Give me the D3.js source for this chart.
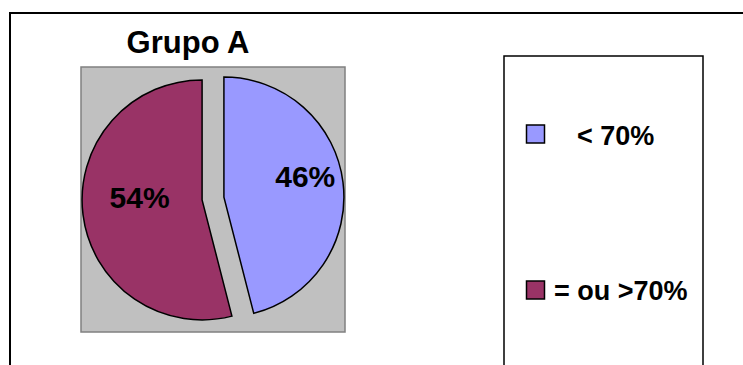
<!DOCTYPE html>
<html>
<head>
<meta charset="utf-8">
<script src="https://cdn.jsdelivr.net/npm/d3@7/dist/d3.min.js"></script>
<style>
  html, body { margin: 0; padding: 0; background: #fff; }
  svg { display: block; font-family: "Liberation Sans", Arial, sans-serif; }
</style>
</head>
<body>
<svg id="chart" width="743" height="365"></svg>
<script>
// Data
const categories = ["< 70%", "= ou >70%"];
const values = [46, 54];
const colors = ["#9999FF", "#993366"];
const title = "Grupo A";

// Layout
const W = 743, H = 365;
const plotArea = { x: 81, y: 67, w: 264, h: 265 };
const center = { x: 213, y: 198.5 };
const radius = 120;
const explode = 11;
const labelRadius = [82, 63];

const svg = d3.select("#chart");

// Outer frame (top and left edges visible)
svg.append("path")
  .attr("d", `M10,${H} L10,13 L${W},13`)
  .attr("fill", "none")
  .attr("stroke", "#000")
  .attr("stroke-width", 2);

// Title
svg.append("text")
  .attr("x", 188).attr("y", 53)
  .attr("text-anchor", "middle")
  .attr("font-weight", "bold")
  .attr("font-size", 31)
  .text(title);

// Plot area
svg.append("rect")
  .attr("x", plotArea.x).attr("y", plotArea.y)
  .attr("width", plotArea.w).attr("height", plotArea.h)
  .attr("fill", "#C0C0C0")
  .attr("stroke", "#808080")
  .attr("stroke-width", 1.5);

const total = d3.sum(values);
const data = categories.map((c, i) => ({ cat: c, value: values[i], color: colors[i], lr: labelRadius[i] }));

const pie = d3.pie().value(d => d.value).sort(null);
const arc = d3.arc().innerRadius(0).outerRadius(radius);
const fmt = d3.format(".0%");

const slices = svg.append("g")
  .attr("transform", `translate(${center.x},${center.y})`)
  .selectAll("g")
  .data(pie(data))
  .join("g")
  .attr("transform", d => {
    const a = (d.startAngle + d.endAngle) / 2;
    return `translate(${Math.sin(a) * explode},${-Math.cos(a) * explode})`;
  });

slices.append("path")
  .attr("d", arc)
  .attr("fill", d => d.data.color)
  .attr("stroke", "#000")
  .attr("stroke-width", 1.5)
  .attr("stroke-linejoin", "miter");

slices.append("text")
  .attr("x", d => Math.sin((d.startAngle + d.endAngle) / 2) * d.data.lr)
  .attr("y", d => -Math.cos((d.startAngle + d.endAngle) / 2) * d.data.lr)
  .attr("text-anchor", "middle")
  .attr("font-weight", "bold")
  .attr("font-size", 30)
  .text(d => fmt(d.data.value / total));

// Legend
const legend = svg.append("g");
legend.append("path")
  .attr("d", `M504,${H} L504,56 L703,56 L703,${H}`)
  .attr("fill", "#fff")
  .attr("stroke", "#000")
  .attr("stroke-width", 1.5);

const legendRows = [
  { y: 125, textX: 577, baseline: 145 },
  { y: 281, textX: 554, baseline: 300 }
];

const items = legend.selectAll("g.item")
  .data(data)
  .join("g")
  .attr("class", "item");

items.append("rect")
  .attr("x", 526.5)
  .attr("y", (d, i) => legendRows[i].y)
  .attr("width", 18).attr("height", 18)
  .attr("fill", d => d.color)
  .attr("stroke", "#000")
  .attr("stroke-width", 1.5);

items.append("text")
  .attr("x", (d, i) => legendRows[i].textX)
  .attr("y", (d, i) => legendRows[i].baseline)
  .attr("font-weight", "bold")
  .attr("font-size", 27)
  .text(d => d.cat);
</script>
</body>
</html>
